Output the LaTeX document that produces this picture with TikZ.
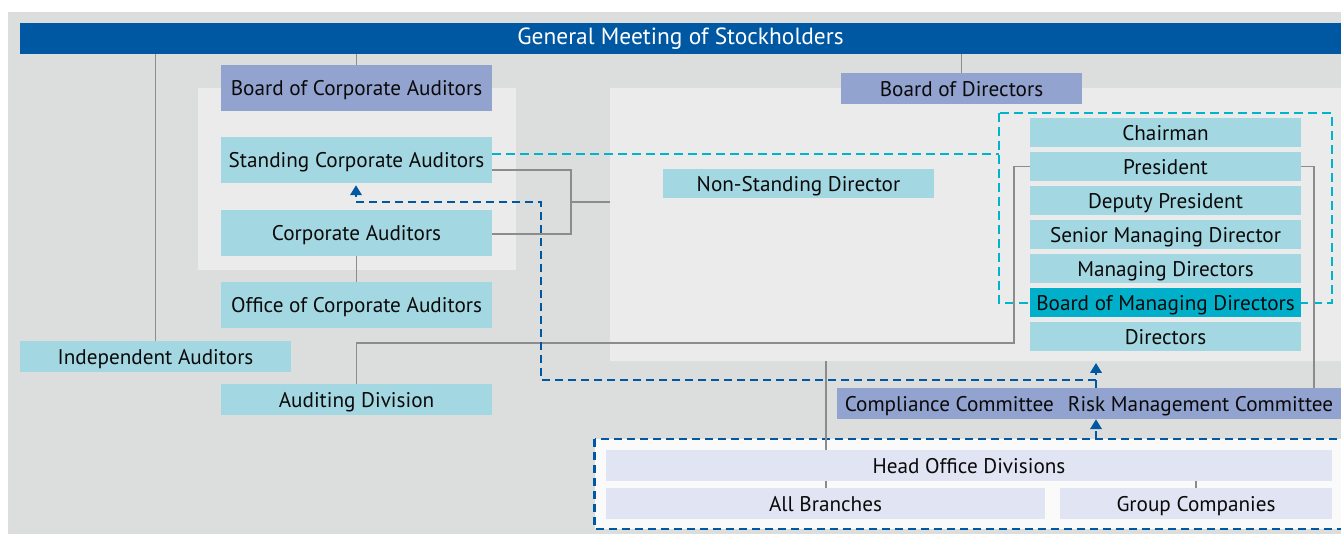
\documentclass[tikz,border=0pt]{standalone}
\usepackage{fontspec}
\setmainfont{PT Sans}
\usetikzlibrary{arrows.meta}
\definecolor{bggray}{HTML}{DCDDDD}
\definecolor{panel}{HTML}{EBEBEB}
\definecolor{barblue}{HTML}{0057A2}
\definecolor{lav}{HTML}{93A3D0}
\definecolor{lcyan}{HTML}{A3D8E2}
\definecolor{scyan}{HTML}{00B0CA}
\definecolor{dcyan}{HTML}{00B4CC}
\definecolor{lline}{HTML}{8C8C8C}
\definecolor{pale}{HTML}{E1E4F2}
\definecolor{txt}{HTML}{0A0A0A}
\tikzset{
  base/.style={rectangle, inner sep=0pt, text=txt, font=\fontsize{21.2}{23}\selectfont,
    text height=15.3pt, text depth=0pt},
  lavbox/.style={base, fill=lav},
  cbox/.style={base, fill=lcyan},
  hbox/.style={base, fill=scyan},
  pbox/.style={base, fill=pale},
  conn/.style={draw=lline, line width=1.3pt},
  cdash/.style={draw=dcyan, line width=2pt, dash pattern=on 9pt off 5pt},
  bdash/.style={draw=barblue, line width=2.2pt, dash pattern=on 8pt off 5pt},
  barrow/.style={bdash, -{Triangle[width=11.5pt,length=10pt,sep=0pt]}},
}
\begin{document}
\begin{tikzpicture}[x=1pt,y=-1pt]
\useasboundingbox (0,0) rectangle (1341,534);
% backgrounds
\fill[bggray] (8,12) rectangle (1341,534);
\fill[panel] (198,88) rectangle (516,270);
\fill[panel] (610,88) rectangle (1341,361);
% blue bar
\node[base, fill=barblue, text=white, font=\fontsize{23.4}{25}\selectfont, text height=13pt,
  minimum width=1321, minimum height=31] (gms) at (680.5,38.5) {General Meeting of Stockholders};
% cyan dashed frame
\draw[cdash] (999,113) rectangle (1332,303);
% left column
\node[lavbox, minimum width=271, minimum height=46] (bca) at (356.5,88) {Board of Corporate Auditors};
\node[lavbox, minimum width=241, minimum height=31] (bod) at (961.5,88.5) {Board of Directors};
\node[cbox, minimum width=271, minimum height=46] (sca) at (356.5,160) {Standing Corporate Auditors};
\node[cbox, minimum width=271, minimum height=46] (ca) at (356.5,233) {Corporate Auditors};
\node[cbox, minimum width=271, minimum height=46] (oca) at (356.5,305) {Office of Corporate Auditors};
\node[cbox, minimum width=271, minimum height=31] (ia) at (155.5,356.5) {Independent Auditors};
\node[cbox, minimum width=271, minimum height=31] (ad) at (356.5,399.5) {Auditing Division};
\node[cbox, minimum width=271, minimum height=29] (nsd) at (798.5,183.5) {Non-Standing Director};
% executive column
\node[cbox, minimum width=271, minimum height=29] (chair) at (1165.5,132.5) {Chairman};
\node[cbox, minimum width=271, minimum height=29] (pres) at (1165.5,166.5) {President};
\node[cbox, minimum width=271, minimum height=29] (dep) at (1165.5,200.5) {Deputy President};
\node[cbox, minimum width=271, minimum height=29] (smd) at (1165.5,234.5) {Senior Managing Director};
\node[cbox, minimum width=271, minimum height=29] (md) at (1165.5,268.5) {Managing Directors};
\node[hbox, minimum width=271, minimum height=29] (bomd) at (1165.5,302.5) {Board of Managing Directors};
\node[cbox, minimum width=271, minimum height=29] (dir) at (1165.5,336.5) {Directors};
% committees
\node[lavbox, minimum width=504, minimum height=31] (com) at (1089,403.5) {Compliance Committee\hspace{14pt}Risk Management Committee};
% bottom frame
\draw[bdash, fill=white!98!black] (594.5,439) rectangle (1350,529);
\coordinate (pbot) at (826,361);
\coordinate (abtop) at (826,488);
\draw[conn] (pbot) -- (abtop);
\node[pbox, minimum width=726, minimum height=31] (hod) at (969,465.5) {Head Office Divisions};
\node[pbox, minimum width=439, minimum height=31] (ab) at (825.5,503.5) {All Branches};
\node[pbox, minimum width=272, minimum height=31] (gc) at (1196,503.5) {Group Companies};
\draw[conn] (hod.south -| gc.north) -- (gc.north);
% gray connectors
\draw[conn] (bca.north) -- (bca.north |- gms.south);
\draw[conn] (bod.north) -- (bod.north |- gms.south);
\draw[conn] (ia.north) -- (ia.north |- gms.south);
\draw[conn] (ca.south) -- (oca.north);
\coordinate (jn) at (571,202);
\coordinate (pl) at (610,202);
\draw[conn] ([yshift=-10pt]sca.east) -| (jn) |- ([yshift=-1pt]ca.east);
\draw[conn] (jn) -- (pl);
\coordinate (pk) at (1014,343);
\draw[conn] (pres.west) -| (pk) -| (ad.north);
\coordinate (pr) at (1314,388);
\draw[conn] (pres.east) -| (pr);
% cyan dashed link
\coordinate (cf) at (999,154);
\draw[cdash] (sca.east |- cf) -- (cf);
% blue dashed arrows
\coordinate (ftop) at (1096,439);
\coordinate (ptip) at (1096,363);
\coordinate (bj) at (1096,380);
\coordinate (lb) at (541,380);
\coordinate (lt) at (541,202);
\coordinate (st) at (356,202);
\draw[barrow] (ftop) -- (ftop |- com.south);
\draw[barrow] (ftop |- com.north) -- (ptip);
\draw[barrow] (bj) -- (lb) -- (lt) -- (st) -- ([yshift=-2pt]sca.south -| st);
\end{tikzpicture}
\end{document}
